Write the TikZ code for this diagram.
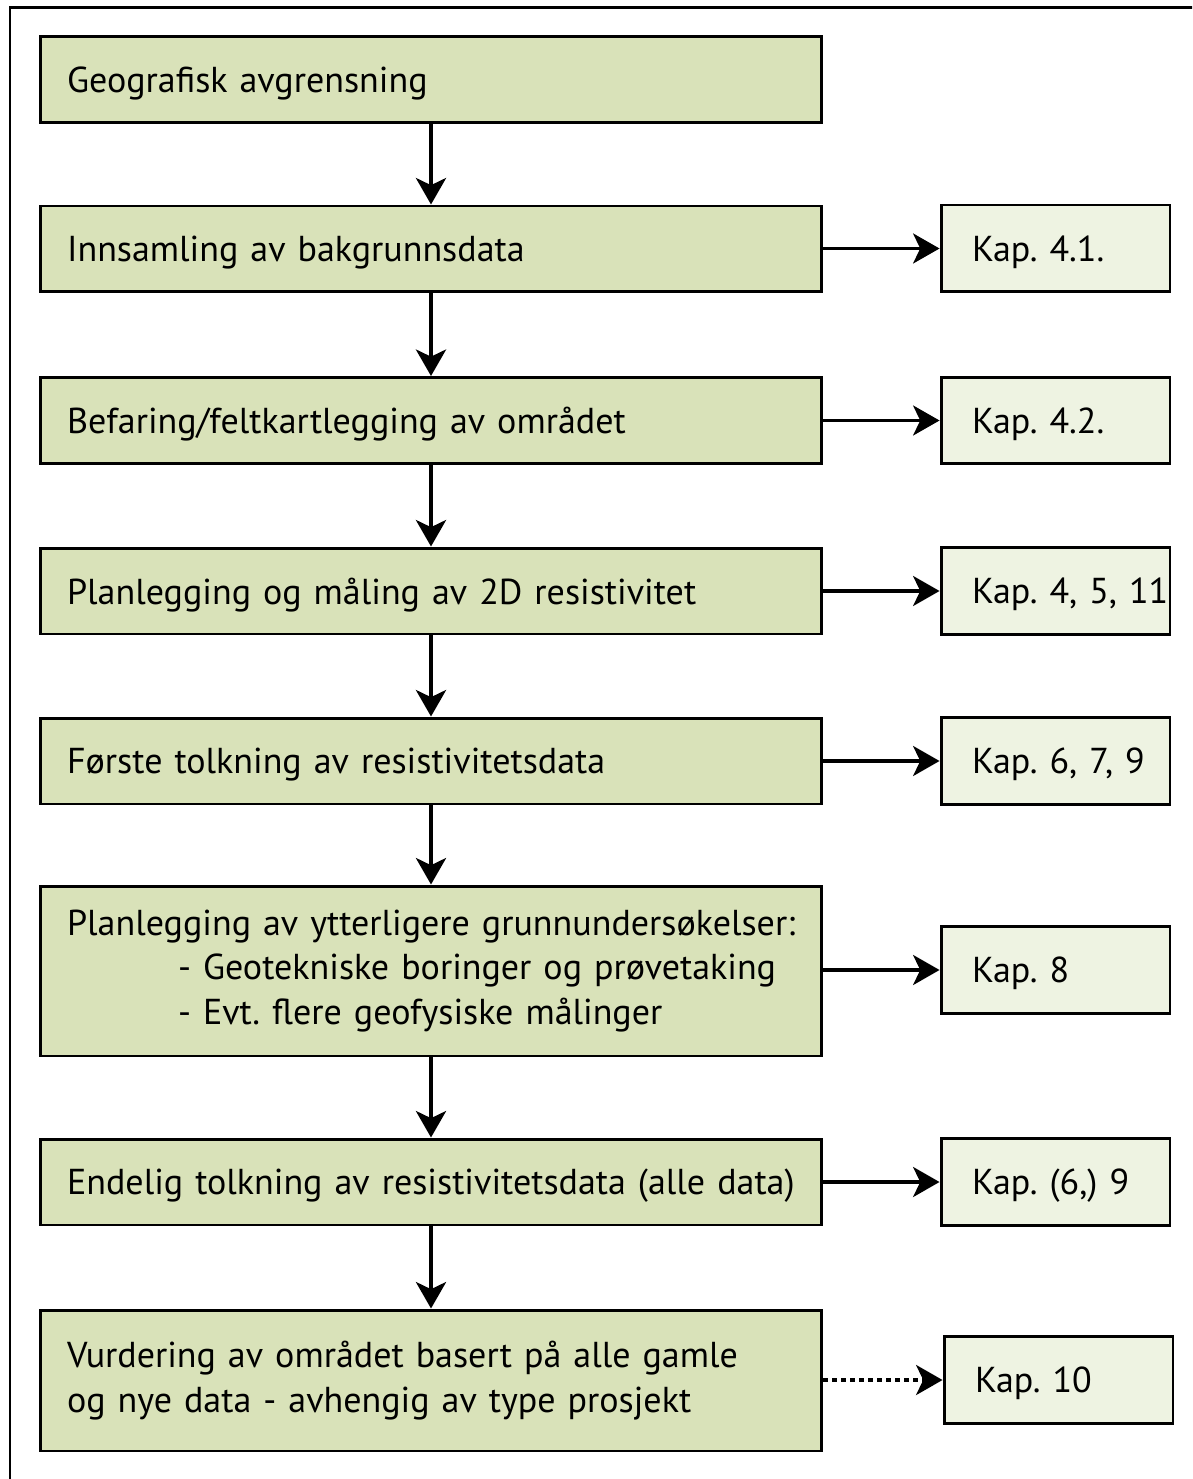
\documentclass[tikz,border=0pt]{standalone}
\usepackage{fontspec}
\setmainfont{PT Sans}[WordSpace=0.8]
\usetikzlibrary{arrows.meta}
\definecolor{mainfill}{RGB}{217,226,185}
\definecolor{kapfill}{RGB}{238,243,226}
\frenchspacing

\begin{document}
\begin{tikzpicture}[x=0.02cm,y=-0.02cm,
  stepbase/.style={draw=black, line width=1.7pt, fill=mainfill, minimum height=1.72cm,
    text width=14.56cm, inner xsep=0.54cm, align=left,
    font=\fontsize{20.5}{25.5}\selectfont},
  mainbox/.style={stepbase, text depth=0pt},
  kapbox/.style={draw=black, line width=1.7pt, fill=kapfill, minimum height=1.74cm,
    text width=3.34cm, inner xsep=0.62cm, align=left, text depth=0pt,
    font=\fontsize{20.5}{25.5}\selectfont},
  downarrow/.style={line width=2.8pt, -{Stealth[length=15pt,width=17pt,inset=4pt]}},
  sidearrow/.style={line width=2.2pt, -{Stealth[length=15pt,width=17pt,inset=4pt]}}
  ]

\useasboundingbox (0,0) rectangle (1192,1479);
\fill[white] (0,0) rectangle (1192,1479);

%outer frame, cut off at right and bottom
\begin{scope}
\clip (0,0) rectangle (1192,1479);
\draw[line width=1.7pt] (10,8) rectangle (1210,1500);
\end{scope}

%main column
\node (b1) at (431,79.5) [mainbox] {Geografisk avgrensning};
\node (b2) at (431,249) [mainbox] {Innsamling av bakgrunnsdata};
\node (b3) at (431,420.5) [mainbox] {Befaring/feltkartlegging av området};
\node (b4) at (431,591) [mainbox] {Planlegging og måling av 2D resistivitet};
\node (b5) at (431,761) [mainbox] {Første tolkning av resistivitetsdata};
\node (b6) at (431,971) [stepbase, minimum height=3.4cm] {\mbox{Planlegging av ytterligere grunnundersøkelser:}\\
  \hspace*{2.22cm}- Geotekniske boringer og prøvetaking\\
  \hspace*{2.22cm}- Evt. flere geofysiske målinger};
\node (b7) at (431,1182) [mainbox] {Endelig tolkning av resistivitetsdata (alle data)};
\node (b8) at (431,1380.5) [stepbase, minimum height=2.82cm] {Vurdering av området basert på alle gamle\\
  og nye data - avhengig av type prosjekt};

%chapter boxes
\node (k2) at (1055.5,248.5) [kapbox] {Kap.~4.1.};
\node (k3) at (1055.5,420.5) [kapbox] {Kap.~4.2.};
\node (k4) at (1055.5,591) [kapbox] {Kap.~4,~5,~11};
\node (k5) at (1055.5,761) [kapbox] {Kap.~6,~7,~9};
\node (k6) at (1055.5,970) [kapbox] {Kap.~8};
\node (k7) at (1055.5,1182) [kapbox] {Kap.~(6,)~9};
\node (k8) at (1058.5,1380) [kapbox] {Kap.~10};

\foreach \a/\b in {b1/b2,b2/b3,b3/b4,b4/b5,b5/b6,b6/b7,b7/b8}
  \draw[downarrow] (\a.south) -- (\b.north);

\foreach \a/\b in {b2/k2,b3/k3,b4/k4,b5/k5,b6/k6,b7/k7}
  \draw[sidearrow] (\a.east |- \b.west) -- (\b.west);

\draw[sidearrow, dash pattern=on 0.1cm off 0.08cm] (b8.east |- k8.west) -- (k8.west);

\end{tikzpicture}
\end{document}
